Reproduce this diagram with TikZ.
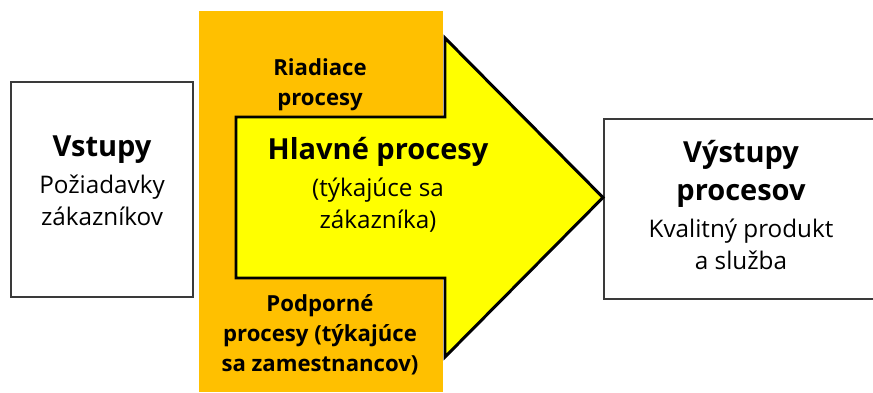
\documentclass[tikz,border=0pt]{standalone}
\usepackage{fontspec}
\setmainfont{Open Sans}
\usepackage{amsmath, tikz, tkz-euclide, xcolor}

\definecolor{procorange}{HTML}{FFC000}
\definecolor{procyellow}{HTML}{FFFF00}
\definecolor{boxgray}{HTML}{3A3A3A}

\newcommand{\headtext}{\fontsize{16.5}{18.5}\selectfont\bfseries}
\newcommand{\bodytext}{\fontsize{13.8}{18.5}\selectfont}
\newcommand{\sidetext}{\fontsize{12.6}{17}\selectfont\bfseries}

\tikzset{
  sidebox/.style={draw=boxgray, line width=0.8pt, fill=white},
  mainarrow/.style={draw=black, line width=1.7pt, line join=miter, fill=procyellow},
  label/.style={align=center, inner sep=0pt, text=black, font=\bodytext},
  sidelabel/.style={align=center, inner sep=0pt, text=black, font=\sidetext}
}

\begin{document}
\begin{tikzpicture}
    \useasboundingbox (0,0) rectangle (17.46,7.84);
    \tkzDefPoints{0.22/1.90/L1, 3.86/6.20/L2, 12.08/1.86/R1, 17.56/5.46/R2}
    \tkzDefPoints{3.98/0/O1, 8.86/7.62/O2}
    \tkzDefPoints{4.72/5.50/A, 8.90/5.50/B, 8.90/7.08/C, 12.06/3.89/T,
                  8.90/0.70/D, 8.90/2.28/E, 4.72/2.28/F}
    % input and output boxes
    \draw[sidebox] (L1) rectangle (L2);
    \draw[sidebox] (R1) rectangle (R2);
    % management / support band
    \fill[procorange] (O1) rectangle (O2);
    % main process arrow
    \tkzDrawPolygon[mainarrow](A,B,C,T,D,E,F)
    % texts
    \node[label] (vstupy) at (2.04,4.22)
        {{\headtext Vstupy}\\[2.5pt]Požiadavky\\zákazníkov};
    \node[sidelabel] (riadiace) at (6.40,6.14)
        {Riadiace\\procesy};
    \node[label] (hlavne) at (7.56,4.14)
        {{\headtext Hlavné procesy}\\[2.5pt](týkajúce sa\\zákazníka)};
    \node[sidelabel] (podporne) at (6.40,1.15)
        {Podporné\\procesy (týkajúce\\sa zamestnancov)};
    \node[label] (vystupy) at (14.82,3.74)
        {{\headtext Výstupy}\\[3pt]{\headtext procesov}\\[2.5pt]Kvalitný produkt\\a služba};
    \end{tikzpicture}
\end{document}
